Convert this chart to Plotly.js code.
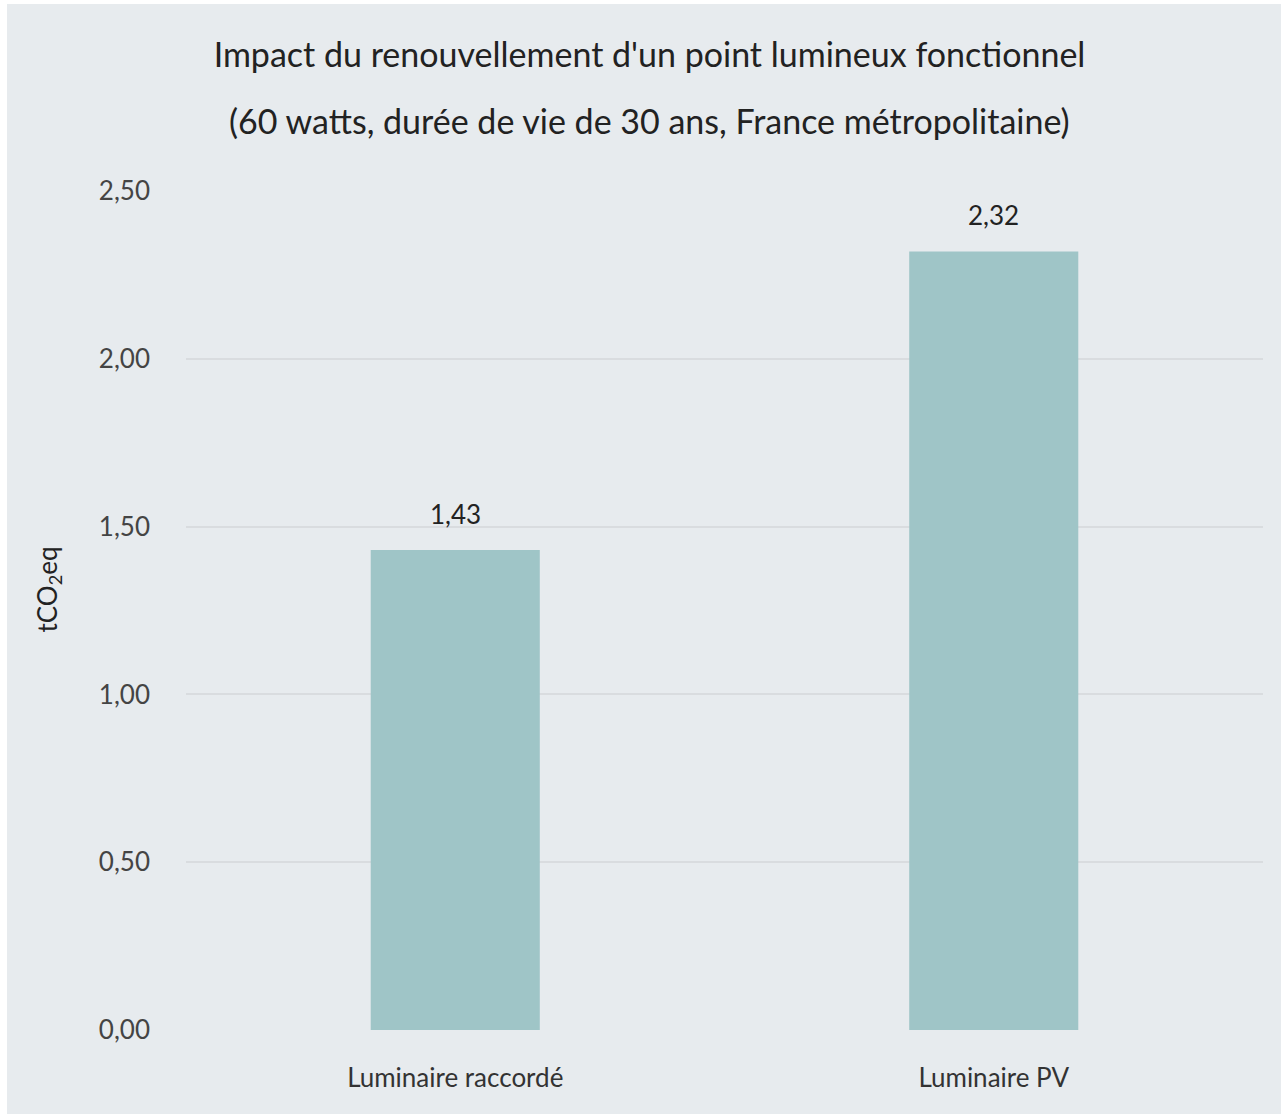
<!DOCTYPE html>
<html>
<head>
<meta charset="utf-8">
<script src="https://cdn.plot.ly/plotly-3.0.1.min.js"></script>
<style>
html,body{margin:0;padding:0;background:#ffffff;}
#chart{position:absolute;left:7px;top:4px;width:1274px;height:1110px;}
</style>
</head>
<body>
<div id="chart"></div>
<script>
const categories = ["Luminaire raccordé", "Luminaire PV"];
const values = [1.43, 2.32];
const titleLine1 = "Impact du renouvellement d'un point lumineux fonctionnel";
const titleLine2 = "(60 watts, durée de vie de 30 ans, France métropolitaine)";
const yTitle = "tCO<sub>2</sub>eq";

const FONT = "Lato, 'Open Sans', sans-serif";

const trace = {
  type: "bar",
  x: categories,
  y: values,
  marker: {color: "#9fc5c7"},
  hoverinfo: "skip"
};

const annotations = values.map((v, i) => ({
  x: categories[i], y: v, xref: "x", yref: "y",
  text: v.toFixed(2).replace(".", ","),
  showarrow: false, yanchor: "bottom", yshift: 18,
  font: {family: FONT, size: 26, color: "#222222"}
}));
annotations.push({
  xref: "paper", yref: "paper", x: (649.5 - 186) / 1077, y: 1, yshift: 71, yanchor: "middle", xanchor: "center",
  text: titleLine2, showarrow: false,
  font: {family: FONT, size: 34, color: "#222222"}
});
annotations.push({
  xref: "paper", yref: "paper", x: 0, xshift: -138.5, y: (1030 - 590) / 839,
  xanchor: "center", yanchor: "middle", textangle: -90,
  text: yTitle, showarrow: false,
  font: {family: FONT, size: 26, color: "#222222"}
});

const layout = {
  width: 1274, height: 1110,
  paper_bgcolor: "#e7ebee", plot_bgcolor: "#e7ebee",
  margin: {l: 179, r: 18, t: 187, b: 84},
  separators: ", ",
  title: {text: titleLine1, x: (649.5 - 7) / 1274, xref: "container", xanchor: "center",
          y: (1110 - 51) / 1110, yref: "container", yanchor: "middle", pad: {t: 0},
          font: {family: FONT, size: 34, color: "#222222"}},
  bargap: 0.686,
  showlegend: false,
  xaxis: {
    type: "category",
    showgrid: false, zeroline: false, showline: false,
    ticks: "", ticklabelstandoff: 30,
    tickfont: {family: FONT, size: 26, color: "#333333"}
  },
  yaxis: {
    range: [0, 2.5], dtick: 0.5, tick0: 0, tickformat: ".2f",
    showgrid: true, gridcolor: "#d9dcdf", gridwidth: 2,
    zeroline: false, showline: false, ticks: "",
    ticklabelstandoff: 35,
    tickfont: {family: FONT, size: 26, color: "#444444"}
  },
  annotations: annotations
};

Plotly.newPlot("chart", [trace], layout, {displayModeBar: false, staticPlot: true});
</script>
</body>
</html>
